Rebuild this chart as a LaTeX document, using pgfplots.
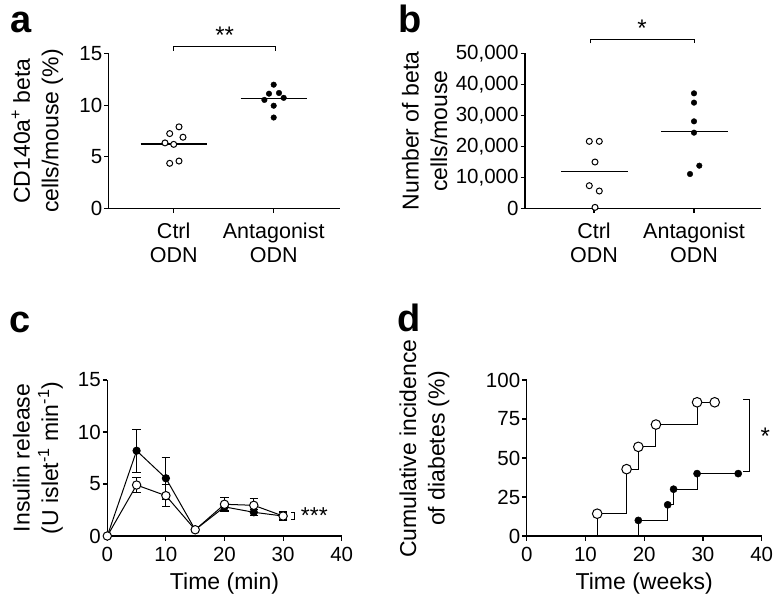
\documentclass[border=0pt]{standalone}
\usepackage{fontspec}
\setmainfont{Liberation Sans}
\usepackage{pgfplots}
\pgfplotsset{compat=1.18}
\pgfplotsset{
  panel/.style={
    scale only axis, axis lines=left, axis line style={-, line width=1.1pt},
    tick align=outside, major tick length=4.5pt, tick style={line width=1.1pt, black},
    clip=false, enlargelimits=false,
    tick label style={font=\fontsize{20.5}{24}\selectfont},
    yticklabel style={xshift=1.5pt},
    label style={font=\fontsize{23}{28.5}\selectfont},
    /pgf/number format/assume math mode=true,
    ylabel style={align=center, anchor=center},
  },
  catlabels/.style={xticklabel style={align=center, font=\fontsize{21.5}{24.5}\selectfont, yshift=-6pt}},
  numx/.style={xticklabel style={yshift=-3pt}, xlabel style={yshift=-4pt}},
  openmk/.style={only marks, mark=*, mark size=3pt, mark options={fill=white, draw=black, line width=1pt}},
  fillmk/.style={only marks, mark=*, mark size=2.8pt, mark options={fill=black, draw=black}},
}
\begin{document}
\begin{tikzpicture}
\path[use as bounding box] (0pt,0pt) rectangle (776pt,597pt);
\node[anchor=base west, inner sep=0pt, font=\fontsize{38}{38}\selectfont\bfseries] at (10pt,564pt) {a};
\node[anchor=base west, inner sep=0pt, font=\fontsize{38}{38}\selectfont\bfseries] at (398pt,564pt) {b};
\node[anchor=base west, inner sep=0pt, font=\fontsize{38}{38}\selectfont\bfseries] at (9pt,264pt) {c};
\node[anchor=base west, inner sep=0pt, font=\fontsize{38}{38}\selectfont\bfseries] at (397pt,265pt) {d};

% panel a
\begin{axis}[panel, catlabels, at={(108.7pt,388.3pt)}, anchor=south west, width=231.3pt, height=155.4pt,
  xmin=-0.65, xmax=1.663, ymin=0, ymax=15, ytick={0,5,10,15},
  xtick={0,1}, xticklabels={{Ctrl\\ODN},{Antagonist\\ODN}},
  ylabel={CD140a\textsuperscript{+} beta\\cells/mouse (\%)},
  ylabel style={at={(axis description cs:-0.308,0.5)}}]
\addplot[openmk] coordinates {(-0.087,6.35) (0,6.21) (-0.04,7.25) (0.053,7.9) (0.093,6.9) (-0.04,4.38) (0.053,4.6)};
\addplot[fillmk] coordinates {(1,11.97) (0.953,11.1) (1.053,11.17) (0.907,10.5) (1.1,10.7) (1,9.94) (1,8.8)};
\addplot[line width=1.1pt] coordinates {(-0.33,6.24) (0.335,6.24)};
\addplot[line width=1.1pt] coordinates {(0.67,10.6) (1.335,10.6)};
\draw[line width=1pt] (axis cs:0,15.25) -- (axis cs:0,15.64) -- (axis cs:1.02,15.64) -- (axis cs:1.02,15.25);
\node[font=\fontsize{24}{24}\selectfont] at (axis cs:0.51,16.72) {**};
\end{axis}

% panel b
\begin{axis}[panel, catlabels, at={(525pt,388.3pt)}, anchor=south west, width=235.7pt, height=155.4pt,
  xmin=-0.69, xmax=1.667, ymin=0, ymax=50000, ytick={0,10000,20000,30000,40000,50000},
  scaled y ticks=false, yticklabel style={/pgf/number format/1000 sep={,}},
  xtick={0,1}, xticklabels={{Ctrl\\ODN},{Antagonist\\ODN}},
  ylabel={Number of beta\\cells/mouse},
  ylabel style={at={(axis description cs:-0.426,0.5)}}]
\addplot[openmk] coordinates {(-0.047,21670) (0.053,21670) (0.01,15020) (-0.047,7400) (0.053,5690) (0.01,430)};
\addplot[fillmk] coordinates {(1,37120) (1,34120) (1,28110) (1,24460) (1.053,13840) (0.96,11160)};
\addplot[line width=1.1pt] coordinates {(-0.33,11980) (0.335,11980)};
\addplot[line width=1.1pt] coordinates {(0.67,24800) (1.335,24800)};
\draw[line width=1pt] (axis cs:-0.04,53200) -- (axis cs:-0.04,54500) -- (axis cs:1,54500) -- (axis cs:1,53200);
\node[font=\fontsize{24}{24}\selectfont] at (axis cs:0.48,58000) {*};
\end{axis}

% panel c
\begin{axis}[panel, numx, at={(107.3pt,61pt)}, anchor=south west, width=234.4pt, height=156pt,
  xmin=0, xmax=40, ymin=0, ymax=15, ytick={0,5,10,15}, xtick={0,10,20,30,40},
  xlabel={Time (min)},
  ylabel={Insulin release\\(U islet\textsuperscript{-1} min\textsuperscript{-1})},
  ylabel style={at={(axis description cs:-0.296,0.5)}}]
\addplot[line width=1pt, mark=*, mark size=3.6pt, mark options={fill=black},
  error bars/.cd, y dir=both, y explicit, error bar style={line width=1pt},
  error mark options={rotate=90, mark size=4.2pt, line width=1pt}]
  coordinates {(0,0) +- (0,0) (5,8.2) +- (0,2.05) (10,5.55) +- (0,2.0) (15,0.6) +- (0,0.15)
               (20,2.8) +- (0,0.37) (25,2.28) +- (0,0.3) (30,1.92) +- (0,0.3)};
\addplot[line width=1pt, mark=*, mark size=4.2pt, mark options={fill=white},
  error bars/.cd, y dir=both, y explicit, error bar style={line width=1pt},
  error mark options={rotate=90, mark size=4.2pt, line width=1pt}]
  coordinates {(0,0) +- (0,0) (5,4.9) +- (0,0.74) (10,3.88) +- (0,1.06) (15,0.6) +- (0,0.15)
               (20,3.05) +- (0,0.67) (25,2.95) +- (0,0.7) (30,1.92) +- (0,0.45)};
\draw[line width=0.9pt] (axis cs:31.4,2.3) -- (axis cs:32,2.3) -- (axis cs:32,1.55) -- (axis cs:31.4,1.55);
\node[anchor=west, font=\fontsize{23}{23}\selectfont, inner sep=0pt] at (axis cs:33,1.95) {***};
\end{axis}

% panel d
\begin{axis}[panel, numx, at={(526.7pt,61pt)}, anchor=south west, width=235pt, height=156pt,
  xmin=0, xmax=40, ymin=0, ymax=100, ytick={0,25,50,75,100}, xtick={0,10,20,30,40},
  xlabel={Time (weeks)},
  ylabel={Cumulative incidence\\of diabetes (\%)},
  ylabel style={at={(axis description cs:-0.435,0.56)}}]
\addplot[line width=1pt] coordinates {(12,0) (12,14.29) (17,14.29) (17,42.86) (19,42.86) (19,57.14) (22,57.14) (22,71.43) (29,71.43) (29,85.71) (32,85.71)};
\addplot[line width=1pt] coordinates {(19,0) (19,10) (24,10) (24,20) (25,20) (25,30) (29,30) (29,40) (36,40)};
\addplot[only marks, mark=*, mark size=4.8pt, mark options={fill=white, line width=1pt}] coordinates {(12,14.29) (17,42.86) (19,57.14) (22,71.43) (29,85.71) (32,85.71)};
\addplot[only marks, mark=*, mark size=3.6pt, mark options={fill=black}] coordinates {(19,10) (24,20) (25,30) (29,40) (36,40)};
\draw[line width=1pt] (axis cs:36.9,87.6) -- (axis cs:38,87.6) -- (axis cs:38,41.2) -- (axis cs:36.9,41.2);
\node[font=\fontsize{24}{24}\selectfont] at (axis cs:40.6,63.7) {*};
\end{axis}
\end{tikzpicture}
\end{document}
